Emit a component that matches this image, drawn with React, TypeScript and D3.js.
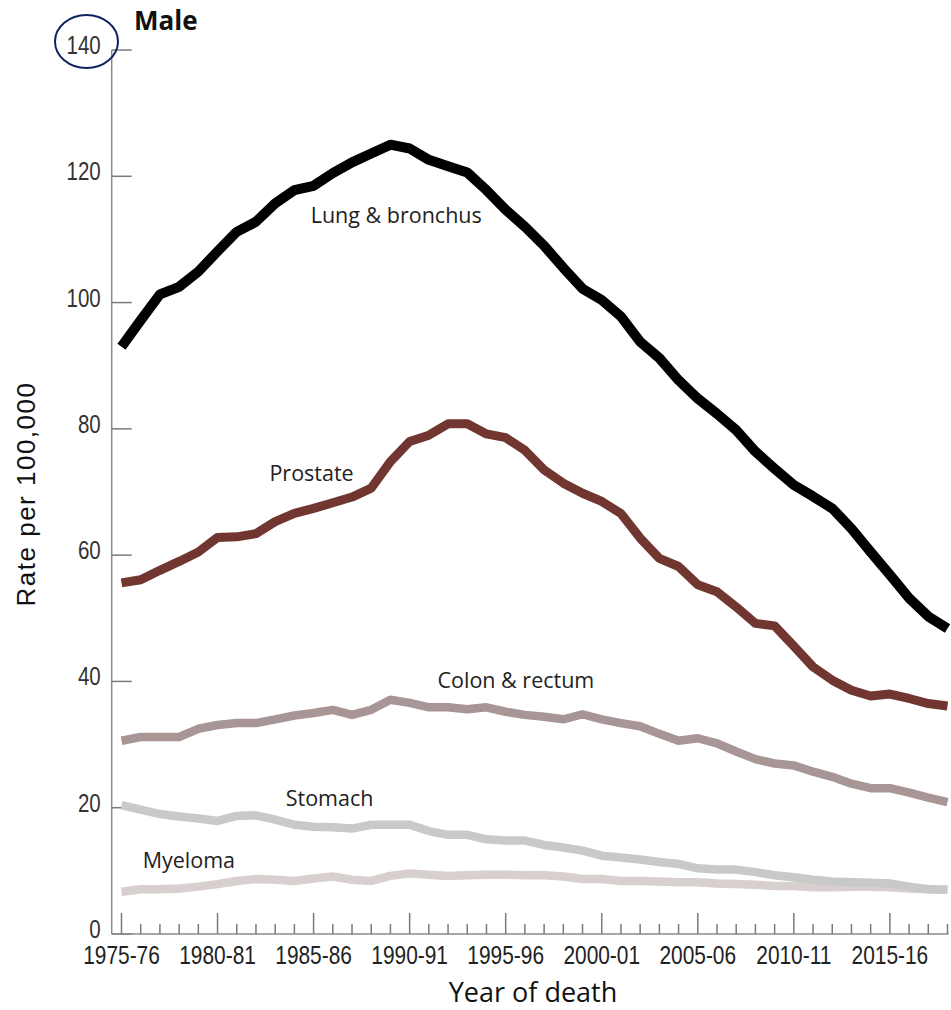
import React from 'react';
import * as d3 from 'd3';

const W = 951;
const H = 1010;

const FIRST_YEAR = 1975;
const LAST_YEAR = 2018;
const labelYears = [1975, 1980, 1985, 1990, 1995, 2000, 2005, 2010, 2015];
const yTicks = [0, 20, 40, 60, 80, 100, 120, 140];

// Death rates per 100,000, one value per year from 1975-76 onwards
const lung = [
  93.0, 97.2, 101.3, 102.5, 104.9, 108.1, 111.2, 112.8, 115.7, 117.8,
  118.5, 120.5, 122.2, 123.6, 125.0, 124.4, 122.6, 121.6, 120.6, 117.8,
  114.7, 112.0, 109.0, 105.5, 102.2, 100.4, 97.8, 93.8, 91.2, 87.7,
  84.8, 82.4, 79.8, 76.4, 73.7, 71.1, 69.3, 67.4, 64.2, 60.5,
  56.9, 53.2, 50.3, 48.4,
];
const prostate = [
  55.6, 56.1, 57.6, 59.0, 60.5, 62.8, 62.9, 63.4, 65.3, 66.6,
  67.4, 68.3, 69.2, 70.6, 74.8, 78.0, 79.0, 80.8, 80.8, 79.2,
  78.6, 76.6, 73.5, 71.4, 69.8, 68.5, 66.6, 62.7, 59.5, 58.2,
  55.3, 54.2, 51.8, 49.2, 48.8, 45.6, 42.3, 40.2, 38.6, 37.7,
  38.0, 37.3, 36.5, 36.1,
];
const colon = [
  30.6, 31.2, 31.2, 31.2, 32.5, 33.1, 33.4, 33.4, 34.0, 34.6,
  35.0, 35.5, 34.7, 35.5, 37.1, 36.6, 35.9, 35.9, 35.6, 35.9,
  35.2, 34.7, 34.4, 34.0, 34.8, 34.0, 33.4, 32.9, 31.7, 30.6,
  31.0, 30.2, 28.9, 27.7, 27.0, 26.7, 25.7, 24.9, 23.8, 23.1,
  23.1, 22.4, 21.6, 20.9,
];
const stomach = [
  20.4, 19.7, 19.0, 18.6, 18.3, 17.9, 18.7, 18.8, 18.1, 17.3,
  17.0, 16.9, 16.7, 17.3, 17.3, 17.3, 16.3, 15.7, 15.7, 15.0,
  14.8, 14.8, 14.1, 13.7, 13.2, 12.4, 12.1, 11.8, 11.4, 11.1,
  10.4, 10.2, 10.2, 9.8, 9.3, 9.0, 8.6, 8.3, 8.2, 8.1,
  8.0, 7.5, 7.1, 7.0,
];
const myeloma = [
  6.7, 7.1, 7.1, 7.2, 7.5, 7.9, 8.4, 8.7, 8.6, 8.4,
  8.8, 9.1, 8.6, 8.4, 9.2, 9.6, 9.4, 9.2, 9.3, 9.4,
  9.4, 9.3, 9.3, 9.1, 8.7, 8.7, 8.4, 8.4, 8.3, 8.2,
  8.2, 8.0, 7.9, 7.8, 7.6, 7.6, 7.4, 7.4, 7.5, 7.5,
  7.4, 7.2, 7.1, 7.0,
];

// Drawn back to front
const series = [
  { name: 'Myeloma', values: myeloma, color: '#d8cfcf', width: 8.5, label: [1976.1, 10.45] },
  { name: 'Stomach', values: stomach, color: '#c9c9c9', width: 8.5, label: [1983.55, 20.27] },
  { name: 'Colon & rectum', values: colon, color: '#a89596', width: 8.5, label: [1991.45, 38.96] },
  { name: 'Prostate', values: prostate, color: '#723631', width: 9, label: [1982.7, 71.75] },
  { name: 'Lung & bronchus', values: lung, color: '#000000', width: 10, label: [1984.85, 112.6] },
];

const TICK_FONT = '"Liberation Sans", Arial, sans-serif';
const LABEL_FONT = '"Open Sans", "Noto Sans", sans-serif';
const NARROW = 0.82;

export default function App() {
  const x = d3.scaleLinear().domain([FIRST_YEAR, LAST_YEAR]).range([121.5, 947.5]);
  const y = d3.scaleLinear().domain([0, 140]).range([934, 50]);
  const axisX = 111.7;

  const line = d3
    .line<number>()
    .x((_, i) => x(FIRST_YEAR + i))
    .y((d) => y(d));

  const minorYears = d3.range(FIRST_YEAR, LAST_YEAR + 1).filter((yr) => !labelYears.includes(yr));
  const fmtPeriod = (yr: number) => `${yr}-${String((yr + 1) % 100).padStart(2, '0')}`;

  return (
    <svg
      width={W}
      height={H}
      viewBox={`0 0 ${W} ${H}`}
      style={{ position: 'absolute', left: 0, top: 0, background: '#fff' }}
    >
      <rect x={0} y={0} width={W} height={H} fill="#fff" />

      {/* y axis */}
      <line x1={axisX} x2={axisX} y1={y(140)} y2={y(0)} stroke="#8a8a8a" strokeWidth={1.5} />
      {yTicks.map((t) => (
        <g key={`yt${t}`}>
          <line x1={axisX} x2={axisX + 20} y1={y(t)} y2={y(t)} stroke="#7a7a7a" strokeWidth={1.5} />
          <text
            transform={`translate(${axisX - 11},${y(t) + 4}) scale(${NARROW},1)`}
            textAnchor="end"
            fontFamily={TICK_FONT}
            fontSize={25}
            fill="#333"
          >
            {t}
          </text>
        </g>
      ))}

      {/* x axis */}
      <line x1={axisX} x2={x(LAST_YEAR) + 1} y1={y(0)} y2={y(0)} stroke="#8a8a8a" strokeWidth={1.5} />
      {labelYears.map((yr) => (
        <g key={`xt${yr}`}>
          <line x1={x(yr)} x2={x(yr)} y1={y(0)} y2={y(0) - 21} stroke="#7a7a7a" strokeWidth={1.5} />
          <text
            transform={`translate(${x(yr)},${y(0) + 30}) scale(${NARROW},1)`}
            textAnchor="middle"
            fontFamily={TICK_FONT}
            fontSize={25.5}
            fill="#222"
          >
            {fmtPeriod(yr)}
          </text>
        </g>
      ))}
      {minorYears.map((yr) => (
        <line key={`xm${yr}`} x1={x(yr)} x2={x(yr)} y1={y(0)} y2={y(0) - 10} stroke="#7a7a7a" strokeWidth={1.5} />
      ))}

      {/* series lines */}
      {series.map((s) => (
        <path
          key={s.name}
          d={line(s.values) || ''}
          fill="none"
          stroke={s.color}
          strokeWidth={s.width}
          strokeLinejoin="round"
        />
      ))}

      {/* series labels */}
      {series.map((s) => (
        <text
          key={`lbl${s.name}`}
          x={x(s.label[0])}
          y={y(s.label[1])}
          fontFamily={LABEL_FONT}
          fontSize={21.5}
          fill="#222"
        >
          {s.name}
        </text>
      ))}

      {/* titles */}
      <text x={134} y={30} fontFamily={LABEL_FONT} fontWeight={700} fontSize={26} fill="#111">
        Male
      </text>
      <text x={533} y={1002} textAnchor="middle" fontFamily={LABEL_FONT} fontSize={27} fill="#111">
        Year of death
      </text>
      <text
        transform={`translate(35,494) rotate(-90)`}
        textAnchor="middle"
        fontFamily={TICK_FONT}
        fontSize={26}
        letterSpacing={1.5}
        fill="#111"
      >
        Rate per 100,000
      </text>

      {/* highlight around the top tick value */}
      <ellipse cx={86.5} cy={41.5} rx={31.5} ry={26.5} fill="none" stroke="#0f2163" strokeWidth={2} />
    </svg>
  );
}
